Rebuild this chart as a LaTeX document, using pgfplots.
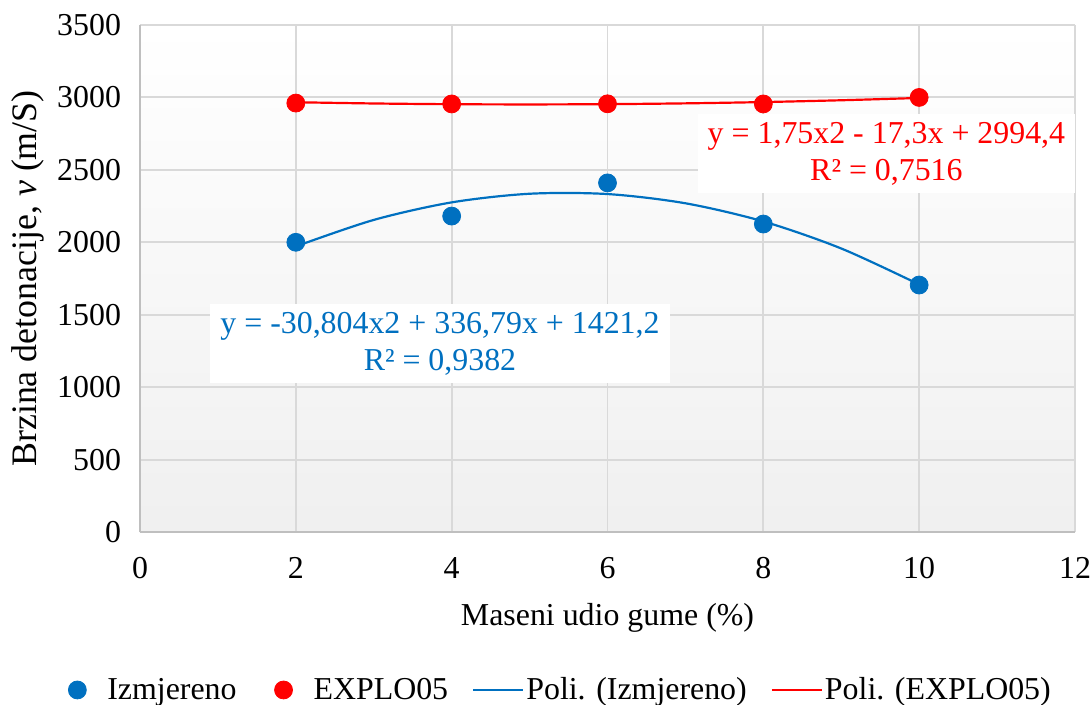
\documentclass[border=0pt]{standalone}
\usepackage{fontspec}
\setmainfont{Liberation Serif}
\usepackage{pgfplots}
\pgfplotsset{compat=1.18}
\definecolor{blu}{HTML}{0070C0}
\definecolor{crv}{HTML}{FF0000}
\definecolor{grd}{HTML}{D9D9D9}
\pgfplotsset{
    lineleg/.style={legend image code/.code={\draw[##1] (0bp,0bp) -- (25bp,0bp);}},
    dotleg/.style={legend image code/.code={\path[##1] plot coordinates {(0bp,0bp)}; \path[draw=none] (0bp,0bp) -- (14bp,0bp);}},
}

\begin{document}
\begin{tikzpicture}[font=\fontsize{16}{19}\selectfont]
\begin{axis}[
    at={(0,0)}, anchor=south west,
    scale only axis,
    width=467.5bp, height=253.5bp,
    xmin=0, xmax=12, ymin=0, ymax=3500,
    xtick={0,2,...,12}, ytick={0,500,...,3500},
    /pgf/number format/1000 sep={},
    /pgf/number format/assume math mode=true,
    major tick length=0pt,
    grid=major,
    major grid style={draw=grd, line width=1pt},
    axis lines*=left,
    axis line style={draw=black!25, line width=1.2pt},
    axis background/.style={top color=white, bottom color=black!6},
    yticklabel style={xshift=-6bp},
    xticklabel style={yshift=-9bp},
    xlabel={Maseni udio gume (\%)},
    ylabel={Brzina detonacije, \textit{v} (m/S)},
    xlabel style={at={(axis description cs:0.5,-0.17)}, anchor=center},
    ylabel style={at={(axis description cs:-0.1198,0.5)}, anchor=center,
        font=\fontsize{18}{21}\selectfont},
    clip=false,
    legend columns=-1,
    legend style={at={(-0.077,-0.3116)}, anchor=west, draw=none, fill=none,
        inner sep=0pt,
        /tikz/every even column/.append style={column sep=11bp},
        nodes={inner xsep=1bp}},
    legend cell align=left,
]
\addplot[only marks, mark=*, mark size=4.5pt, color=blu, dotleg] coordinates {
    (2,2000) (4,2181) (6,2410) (8,2126) (10,1705)};
\addlegendentry{Izmjereno\rule{7bp}{0pt}}
\addplot[only marks, mark=*, mark size=4.5pt, color=crv, dotleg] coordinates {
    (2,2961) (4,2955) (6,2956) (8,2955) (10,3000)};
\addlegendentry{EXPLO05}
\addplot[smooth, no marks, color=blu, line width=1.1pt, lineleg] coordinates {
    (2,1971.6) (3,2154.4) (4,2275.5) (5,2335.1) (6,2333.0)
    (7,2269.3) (8,2144.0) (9,1957.2) (10,1708.7)};
\addlegendentry{Poli. (Izmjereno)}
\addplot[smooth, no marks, color=crv, line width=1.1pt, lineleg] coordinates {
    (2,2966.8) (3,2958.3) (4,2953.2) (5,2951.7) (6,2953.6)
    (7,2959.1) (8,2968.0) (9,2980.5) (10,2996.4)};
\addlegendentry{Poli. (EXPLO05)}
\node[fill=white, text=blu, align=center, inner xsep=5bp, inner ysep=4bp,
    font=\fontsize{16}{18.5}\selectfont]
    at (axis cs:3.85,1301) {y = -30,804x2 + 336,79x + 1421,2\\R² = 0,9382};
\node[fill=white, text=crv, align=center, inner xsep=5bp, inner ysep=4bp,
    font=\fontsize{16}{18.5}\selectfont]
    at (axis cs:9.58,2613) {y = 1,75x2 - 17,3x + 2994,4\\R² = 0,7516};
\end{axis}
\pgfresetboundingbox
\path (-70bp,-86.5bp) rectangle (476bp,266bp);
\end{tikzpicture}
\end{document}
